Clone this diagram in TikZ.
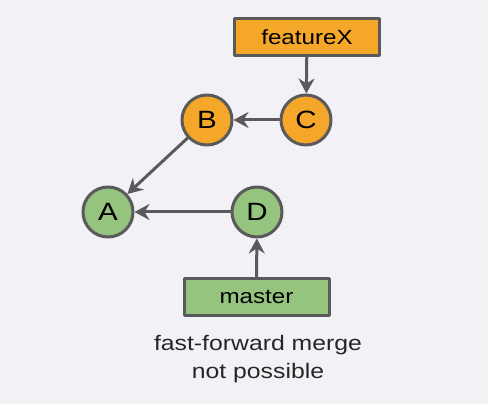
\documentclass[tikz,border=0pt]{standalone}
\usepackage{fontspec}
\setmainfont[FakeStretch=1.18]{Liberation Sans}
\usetikzlibrary{arrows.meta}
\definecolor{bgGray}{HTML}{F2F2F6}
\definecolor{lineGray}{HTML}{5A5A5C}
\definecolor{featOrange}{HTML}{F5A72A}
\definecolor{mastGreen}{HTML}{95C47E}

\begin{document}
\begin{tikzpicture}[line cap=round,line join=round,x=1pt,y=1pt,
	commit/.style={circle,draw=lineGray,line width=3pt,minimum size=50pt,inner sep=0pt,font=\fontsize{25}{27}\selectfont},
	branch/.style={rectangle,draw=lineGray,line width=3pt,minimum width=145pt,minimum height=37pt,inner sep=0pt,font=\fontsize{20.5}{22}\selectfont},
	link/.style={draw=lineGray,line width=3pt,-{Stealth[length=15pt,width=16pt,inset=5pt]}}]
	\fill[bgGray] (0,0) rectangle (488,404);
	\useasboundingbox (0,0) rectangle (488,404);
	% branch labels
	\node[branch,fill=featOrange] (featureX) at (307,366.5) {featureX};
	\node[branch,fill=mastGreen] (master) at (256.5,107) {master};
	% commits
	\node[commit,fill=featOrange] (C) at (306,284) {C};
	\node[commit,fill=featOrange] (B) at (207,284) {B};
	\node[commit,fill=mastGreen] (A) at (108,192) {A};
	\node[commit,fill=mastGreen] (D) at (257,192) {D};
	% parent links
	\draw[link] (featureX) -- (C);
	\draw[link] (C) -- (B);
	\draw[link] (B) -- (A);
	\draw[link] (D) -- (A);
	\draw[link] (master) -- (D);
	% caption
	\node[align=center,font=\fontsize{21}{28}\selectfont,text=black!85] (note) at (258,45) {fast-forward merge\\not possible};
\end{tikzpicture}
\end{document}
